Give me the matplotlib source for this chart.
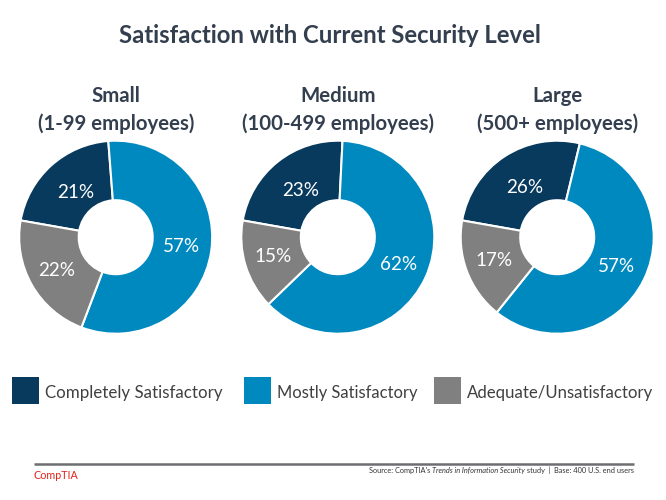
import matplotlib
matplotlib.use("Agg")
import matplotlib.pyplot as plt
from matplotlib.patches import Rectangle

# ---------------- data ----------------
title = "Satisfaction with Current Security Level"
groups = ["Small", "Medium", "Large"]
group_sub = ["(1-99 employees)", "(100-499 employees)", "(500+ employees)"]
categories = ["Completely Satisfactory", "Mostly Satisfactory", "Adequate/Unsatisfactory"]
completely = [21, 23, 26]
mostly = [57, 62, 57]
adequate = [22, 15, 17]
colors = ["#083A5E", "#0089BF", "#808080"]
source_parts = ["Source: CompTIA's ", "Trends in Information Security", " study  |  Base: 400 U.S. end users"]
brand = "CompTIA"

W, H = 666, 500
plt.rcParams['font.family'] = ['Lato', 'DejaVu Sans']
fig = plt.figure(figsize=(W / 100, H / 100), dpi=100)
ax = fig.add_axes([0, 0, 1, 1])
ax.set_axis_off()
renderer = fig.canvas.get_renderer()


def Y(y):
    return H - y


def fit(text, x, y, width, **kw):
    t = ax.text(x, Y(y), text, fontsize=10, **kw)
    bb = t.get_window_extent(renderer)
    t.set_fontsize(10 * width / bb.width)
    return t


title_col = "#333F4F"
fit(title, 330, 43, 423, ha='center', va='baseline', fontweight='bold', color=title_col)

# reference size for data labels: "57%" about 37 px wide
probe = ax.text(0, 0, "57%", fontsize=10)
label_fs = 10 * 37 / probe.get_window_extent(renderer).width
probe.remove()

centers_x = [115.7, 337.8, 557.2]
cy = 237.2
R = 96.5
r_in = 37.0
pct_dist = [0.62, 0.69, 0.70]
for i, cx in enumerate(centers_x):
    vals = [completely[i], mostly[i], adequate[i]]
    wedges, texts, autotexts = ax.pie(
        vals, colors=colors, startangle=170, counterclock=False,
        radius=R, center=(cx, Y(cy)), autopct=lambda p: f"{p:.0f}%",
        pctdistance=0.69,
        wedgeprops=dict(width=R - r_in, edgecolor='white', linewidth=1.5))
    for k, t in enumerate(autotexts):
        t.set_color('white')
        t.set_fontsize(label_fs)
        x0, y0 = t.get_position()
        f = pct_dist[k] / 0.69
        t.set_position((cx + (x0 - cx) * f, Y(cy) + (y0 - Y(cy)) * f))

# group titles and subtitles with common font size
sub_texts = []
head_texts = []
for i, cx in enumerate(centers_x):
    head_texts.append(ax.text(cx, Y(102), groups[i], ha='center', va='baseline',
                              fontweight='bold', color=title_col, fontsize=10))
    sub_texts.append(ax.text(cx, Y(130), group_sub[i], ha='center', va='baseline',
                             fontweight='bold', color=title_col, fontsize=10))
bb = sub_texts[1].get_window_extent(renderer)
for t in sub_texts + head_texts:
    t.set_fontsize(10 * 193 / bb.width)

# legend
sq_x = [12, 244, 434]
txt_w = [177, 141, 187]
for i, cat in enumerate(categories):
    ax.add_patch(Rectangle((sq_x[i], Y(403.5)), 26.5, 26.5, facecolor=colors[i], edgecolor='none'))
    fit(cat, sq_x[i] + 33, 398.3, txt_w[i], ha='left', va='baseline', color='#404040')

# footer
ax.plot([34, 634], [Y(463.5), Y(463.5)], color='#6D6E71', linewidth=1.8, solid_capstyle='butt')
fit(brand, 34, 479, 45, ha='left', va='baseline', color='#E3231B')
fs = 6.0
pieces = []
for j, p in enumerate(source_parts):
    pieces.append(ax.text(0, Y(472.7), p, fontsize=fs, color='#333333', va='baseline', ha='left',
                          style='italic' if j == 1 else 'normal'))
widths = [p.get_window_extent(renderer).width for p in pieces]
scale = 266 / sum(widths)
for p in pieces:
    p.set_fontsize(fs * scale)
widths = [p.get_window_extent(renderer).width for p in pieces]
x = 634 - sum(widths)
for p, w in zip(pieces, widths):
    p.set_x(x)
    x += w

ax.set_xlim(0, W)
ax.set_ylim(0, H)
ax.set_aspect('auto')
fig.savefig("out.png", dpi=100, facecolor='white')
